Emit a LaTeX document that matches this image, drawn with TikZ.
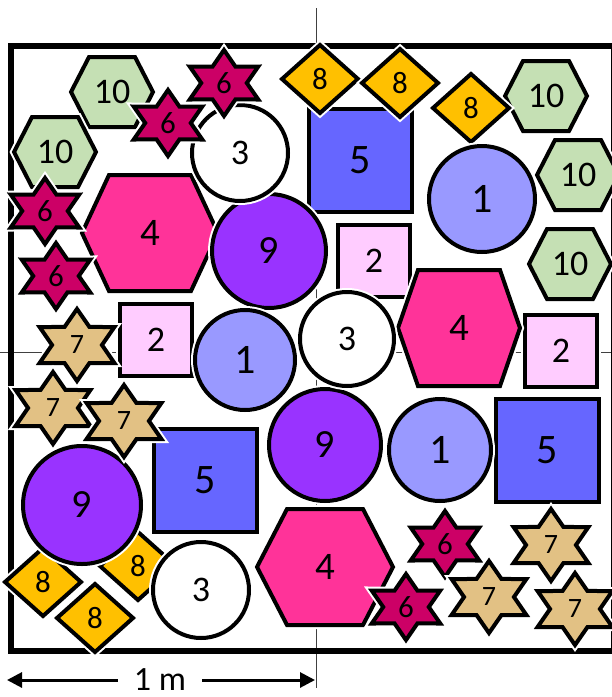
\documentclass[tikz,border=0pt]{standalone}
\usepackage{fontspec}
\setmainfont{Carlito}
\usetikzlibrary{arrows.meta}
\definecolor{hexgreen}{HTML}{C5E0B4}
\definecolor{hexpink}{HTML}{FF3399}
\definecolor{starmag}{HTML}{CC0066}
\definecolor{startan}{HTML}{E2C184}
\definecolor{dgold}{HTML}{FFC000}
\definecolor{sqblue}{HTML}{6666FF}
\definecolor{sqpink}{HTML}{FFCCFF}
\definecolor{circlav}{HTML}{9999FF}
\definecolor{circpurp}{HTML}{9933FF}

\begin{document}
\begin{tikzpicture}[x=1pt, y=-1pt,
      shp/.style={draw=black, line width=4pt, preaction={draw=white, line width=8pt}},
      num/.style={font=\fontsize{#1}{#1}\selectfont, inner sep=0pt},
      guide/.style={draw=black!75, line width=1pt},
      dimline/.style={line width=3pt, -{Triangle[length=15pt, width=15pt]}}]
    \useasboundingbox (0,0) rectangle (612,697);
    % guides and frame
    \draw[guide] (316,8) -- (316,688);
    \draw[guide] (0,352) -- (612,352);
    \draw[line width=6pt] (10.5,46) rectangle (614,650.5);
    % squares
    \foreach \x/\y [count=\i] in {360/160, 205/480, 547/450}{
      \draw[shp, fill=sqblue, shift={(\x,\y)}] (-51.5,-51.5) rectangle (51.5,51.5);
      \node[num=42] (five-\i) at (\x,\y) {5};
    }
    \foreach \x/\y [count=\i] in {156/340, 374/261, 561/351}{
      \draw[shp, fill=sqpink, shift={(\x,\y)}] (-36,-36) rectangle (36,36);
      \node[num=36] (two-\i) at (\x,\y) {2};
    }
    % hexagons
    \foreach \x/\y [count=\i] in {112/92, 55/152, 546/96, 578/175, 570/264}{
      \draw[shp, fill=hexgreen, shift={(\x,\y)}]
        (-41,0) -- (-23,-35) -- (23,-35) -- (41,0) -- (23,35) -- (-23,35) -- cycle;
      \node[num=36] (ten-\i) at (\x,\y) {10};
    }
    \foreach \x/\y/\w/\a [count=\i] in {150/233/68/41, 459/328/61/41, 325/567/68/38}{
      \draw[shp, fill=hexpink, shift={(\x,\y)}]
        (-\w,0) -- (-\a,-58) -- (\a,-58) -- (\w,0) -- (\a,58) -- (-\a,58) -- cycle;
      \node[num=39] (four-\i) at (\x,\y) {4};
    }
    % diamonds
    \foreach \x/\y [count=\i] in {320/79, 400/83, 471/108, 43/582, 95/618, 138/566}{
      \draw[shp, fill=dgold, shift={(\x,\y)}] (-38,0) -- (0,-34) -- (38,0) -- (0,34) -- cycle;
      \node[num=31] (eight-\i) at (\x,\y) {8};
    }
    % circles
    \foreach \x/\y/\r [count=\i] in {269/251/57, 325/445/56, 82/505/59}{
      \draw[shp, fill=circpurp] (\x,\y) circle[radius=\r];
      \node[num=40] (nine-\i) at (\x,\y) {9};
    }
    \foreach \x/\y/\r [count=\i] in {482/199/53, 245/360/50, 440/450/51}{
      \draw[shp, fill=circlav] (\x,\y) circle[radius=\r];
      \node[num=42] (one-\i) at (\x,\y) {1};
    }
    \foreach \x/\y/\r [count=\i] in {240/153/48, 347/339/47, 201/590/48}{
      \draw[shp, fill=white] (\x,\y) circle[radius=\r];
      \node[num=36] (three-\i) at (\x,\y) {3};
    }
    % stars
    \foreach \x/\y [count=\i] in {224/83, 168/123, 45/211, 56/276, 445/544, 406/607}{
      \draw[shp, fill=starmag, shift={(\x,\y)}, xscale=1.2]
        (90:33) -- (120:19) -- (150:33) -- (180:19) -- (210:33) -- (240:19)
        -- (270:33) -- (300:19) -- (330:33) -- (0:19) -- (30:33) -- (60:19) -- cycle;
      \node[num=31] (six-\i) at (\x,\y) {6};
    }
    \foreach \x/\y [count=\i] in {77/345, 53/408, 124/421, 551/545, 489/597, 575/609}{
      \draw[shp, fill=startan, shift={(\x,\y)}, xscale=1.2]
        (90:36) -- (120:20.8) -- (150:36) -- (180:20.8) -- (210:36) -- (240:20.8)
        -- (270:36) -- (300:20.8) -- (330:36) -- (0:20.8) -- (30:36) -- (60:20.8) -- cycle;
      \node[num=28] (seven-\i) at (\x,\y) {7};
    }
    % scale bar
    \node[num=34, inner xsep=16pt] (dim) at (160,680) {1 m};
    \coordinate (dimL) at (7,680);
    \coordinate (dimR) at (315,680);
    \draw[dimline] (dim) -- (dimL);
    \draw[dimline] (dim) -- (dimR);
  \end{tikzpicture}
\end{document}
